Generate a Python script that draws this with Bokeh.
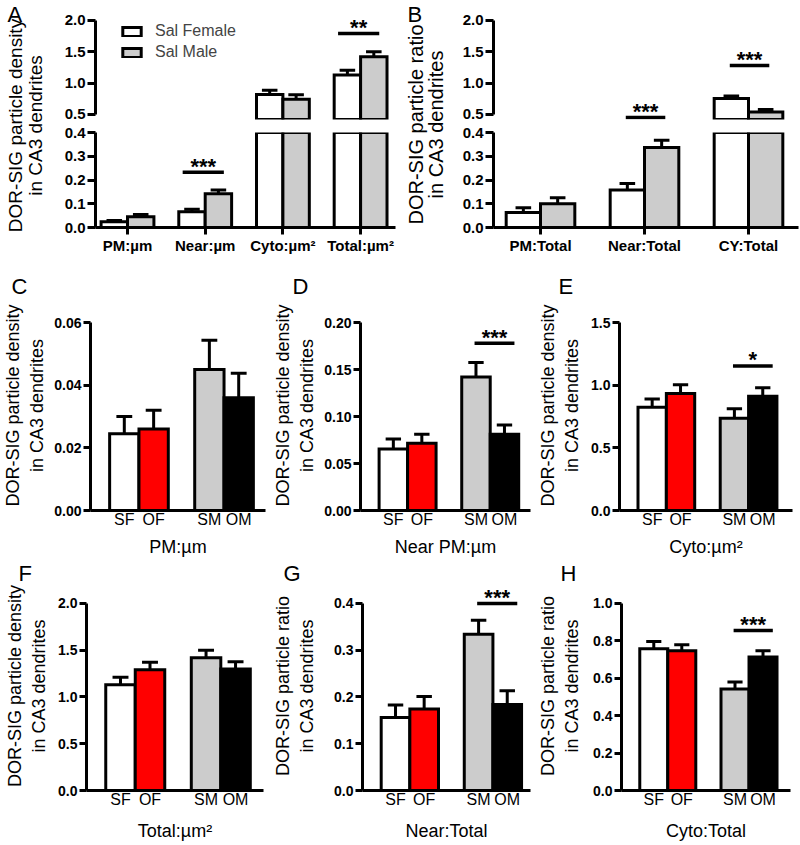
import math
from bokeh.plotting import figure
from bokeh.layouts import row, column
from bokeh.models import (FixedTicker, NumeralTickFormatter, Range1d, Legend,
                          LegendItem, Label, Title)
from bokeh.embed import file_html
from bokeh.resources import INLINE
from bokeh.core.properties import value

FONT = "Liberation Sans"

# ---------------- data ----------------
# Panel A : Sal Female vs Sal Male (particle density)
a_categories = ["PM:µm", "Near:µm", "Cyto:µm²", "Total:µm²"]
a_female = [0.0245, 0.066, 0.82, 1.13]
a_female_err = [0.0055, 0.0105, 0.065, 0.075]
a_male = [0.045, 0.142, 0.745, 1.42]
a_male_err = [0.0093, 0.0155, 0.07, 0.08]
a_sig_cat = [2, 4]
a_sig_y = [0.233, 1.79]
a_sig_text = ["***", "**"]
a_ticks_low = [0.0, 0.1, 0.2, 0.3, 0.4]
a_ticks_high = [0.5, 1.0, 1.5, 2.0]

# Panel B : Sal Female vs Sal Male (particle ratio)
b_categories = ["PM:Total", "Near:Total", "CY:Total"]
b_female = [0.063, 0.158, 0.755]
b_female_err = [0.02, 0.027, 0.04]
b_male = [0.10, 0.337, 0.54]
b_male_err = [0.025, 0.03, 0.04]
b_sig_cat = [2, 3]
b_sig_y = [0.45, 1.28]
b_sig_text = ["***", "***"]
b_ticks_low = [0.0, 0.1, 0.2, 0.3, 0.4]
b_ticks_high = [0.5, 1.0, 1.5, 2.0]

legend_labels = ["Sal Female", "Sal Male"]

# Panels C-H : four groups
groups = ["SF", "OF", "SM", "OM"]

c_vals = [0.0245, 0.026, 0.045, 0.036]
c_err = [0.0055, 0.006, 0.0093, 0.0078]
c_ticks = [0.0, 0.02, 0.04, 0.06]

d_vals = [0.0655, 0.0715, 0.142, 0.081]
d_err = [0.0105, 0.0095, 0.0155, 0.010]
d_ticks = [0.0, 0.05, 0.10, 0.15, 0.20]
d_sig_y, d_sig_text = 0.178, "***"

e_vals = [0.823, 0.933, 0.737, 0.911]
e_err = [0.067, 0.07, 0.075, 0.068]
e_ticks = [0.0, 0.5, 1.0, 1.5]
e_sig_y, e_sig_text = 1.153, "*"

f_vals = [1.13, 1.29, 1.42, 1.30]
f_err = [0.08, 0.08, 0.08, 0.075]
f_ticks = [0.0, 0.5, 1.0, 1.5, 2.0]

g_vals = [0.156, 0.174, 0.334, 0.184]
g_err = [0.027, 0.027, 0.03, 0.029]
g_ticks = [0.0, 0.1, 0.2, 0.3, 0.4]
g_sig_y, g_sig_text = 0.40, "***"

h_vals = [0.757, 0.747, 0.543, 0.713]
h_err = [0.04, 0.032, 0.037, 0.034]
h_ticks = [0.0, 0.2, 0.4, 0.6, 0.8, 1.0]
h_sig_y, h_sig_text = 0.855, "***"

DENSITY = "DOR-SIG particle density"
RATIO = "DOR-SIG particle ratio"
SECOND = "in CA3 dendrites"

# ---------------- styles ----------------
FILL4 = ["white", "#ff0000", "#cccccc", "black"]
FEMALE_FILL, MALE_FILL = "white", "#cccccc"
LW = 3


def style_axis(ax, tick_out, size, bold):
    ax.axis_line_width = LW
    ax.axis_line_color = "black"
    ax.major_tick_line_width = LW
    ax.major_tick_line_color = "black" if tick_out > 0 else None
    ax.major_tick_out = tick_out
    ax.major_tick_in = 0
    ax.minor_tick_line_color = None
    ax.major_label_text_font = FONT
    ax.major_label_text_font_size = size
    ax.major_label_text_font_style = "bold" if bold else "normal"
    ax.major_label_text_color = "black"
    ax.axis_label_text_font = FONT
    ax.axis_label_text_font_style = "normal"
    ax.axis_label_text_color = "black"


def base_fig(width, height, xr, yr, bl, br, bt, bb, **kw):
    p = figure(width=width, height=height, x_range=xr, y_range=yr,
               output_backend="svg", toolbar_location=None, title=None,
               min_border_left=bl, min_border_right=br,
               min_border_top=bt, min_border_bottom=bb, **kw)
    p.grid.visible = False
    p.outline_line_color = None
    p.background_fill_color = "white"
    p.border_fill_color = "white"
    return p


def add_sig(p, xc0, xc1, y, txt):
    p.segment(x0=[xc0], x1=[xc1], y0=[y], y1=[y], line_width=3.5, line_color="black")
    p.text(x=[(xc0 + xc1) / 2], y=[y], text=[txt], text_align="center",
           text_baseline="alphabetic", text_font=value(FONT),
           text_font_style="bold", text_font_size="22px", text_color="black",
           y_offset=-6)


def add_err(p, xs, tops, errs, half):
    ends = [t + e for t, e in zip(tops, errs)]
    p.segment(x0=xs, x1=xs, y0=tops, y1=ends, line_width=LW, line_color="black")
    p.segment(x0=[x - half for x in xs], x1=[x + half for x in xs],
              y0=ends, y1=ends, line_width=LW, line_color="black")


# ---------------- broken-axis panels (A, B) ----------------
TOP_LOW, TOP_HIGH = 0.42, 2.095
ROW1_H = 262
TOP_H = 125


def label_fig(width, letter, letter_x, line1, line2, cx1, cx2, cy, fsize):
    p = figure(width=width, height=ROW1_H, x_range=Range1d(0, width),
               y_range=Range1d(0, ROW1_H), output_backend="svg",
               toolbar_location=None, title=None, x_axis_type=None,
               y_axis_type=None, min_border=0)
    p.grid.visible = False
    p.outline_line_color = None
    p.add_layout(Label(x=letter_x, y=ROW1_H - 1, text=letter, text_font=FONT,
                       text_font_size="22px", text_baseline="top",
                       text_align="left", text_color="black"))
    p.text(x=[cx1, cx2], y=[cy, cy], text=[line1, line2], angle=math.pi / 2,
           text_align="center", text_baseline="middle", text_font=value(FONT),
           text_font_size=fsize, text_color="black")
    return p


def broken_panel(cats, fem, ferr, mal, merr, sig_cat, sig_y, sig_txt,
                 ticks_low, ticks_high, width, bl, br, px_unit, first_px,
                 bar_w, cap_half, sig_span, legend=None):
    n = len(cats)
    xs = list(range(1, n + 1))
    fw = width - bl - br
    x0 = 1 - first_px / px_unit
    xr = Range1d(x0, x0 + fw / px_unit)
    xf = [x - bar_w / 2 for x in xs]
    xm = [x + bar_w / 2 for x in xs]

    # upper segment
    top = base_fig(width, TOP_H, xr, Range1d(TOP_LOW, TOP_HIGH), bl, br, 14, 6,
                   x_axis_location=None)
    seg_lo = ticks_high[0]
    fi = [i for i in range(n) if fem[i] > seg_lo]
    mi = [i for i in range(n) if mal[i] > seg_lo]
    rf = top.vbar(x=[xf[i] for i in fi], top=[fem[i] for i in fi], bottom=0.3,
                  width=bar_w, fill_color=FEMALE_FILL, line_color="black",
                  line_width=LW, line_join="miter")
    rm = top.vbar(x=[xm[i] for i in mi], top=[mal[i] for i in mi], bottom=0.3,
                  width=bar_w, fill_color=MALE_FILL, line_color="black",
                  line_width=LW, line_join="miter")
    add_err(top, [xf[i] for i in fi], [fem[i] for i in fi], [ferr[i] for i in fi], cap_half)
    add_err(top, [xm[i] for i in mi], [mal[i] for i in mi], [merr[i] for i in mi], cap_half)
    ya = top.yaxis[0]
    ya.ticker = FixedTicker(ticks=ticks_high)
    ya.formatter = NumeralTickFormatter(format="0.0")
    ya.bounds = (ticks_high[0], ticks_high[-1])
    style_axis(ya, 8, "15px", True)
    ya.major_label_standoff = 2

    # lower segment
    bot = base_fig(width, ROW1_H - TOP_H, xr, Range1d(ticks_low[0], ticks_low[-1]),
                   bl, br, 7, 35)
    bot.vbar(x=xf, top=fem, bottom=0, width=bar_w, fill_color=FEMALE_FILL,
             line_color="black", line_width=LW, line_join="miter")
    bot.vbar(x=xm, top=mal, bottom=0, width=bar_w, fill_color=MALE_FILL,
             line_color="black", line_width=LW, line_join="miter")
    lim = ticks_low[-1]
    fl = [i for i in range(n) if fem[i] + ferr[i] < lim]
    ml = [i for i in range(n) if mal[i] + merr[i] < lim]
    add_err(bot, [xf[i] for i in fl], [fem[i] for i in fl], [ferr[i] for i in fl], cap_half)
    add_err(bot, [xm[i] for i in ml], [mal[i] for i in ml], [merr[i] for i in ml], cap_half)
    yb = bot.yaxis[0]
    yb.ticker = FixedTicker(ticks=ticks_low)
    yb.formatter = NumeralTickFormatter(format="0.0")
    yb.bounds = (ticks_low[0], ticks_low[-1])
    style_axis(yb, 8, "15px", True)
    yb.major_label_standoff = 2
    xa = bot.xaxis[0]
    xa.ticker = FixedTicker(ticks=xs)
    xa.major_label_overrides = {x: c for x, c in zip(xs, cats)}
    style_axis(xa, 7, "15px", True)
    xa.major_label_standoff = 2

    for c, y, t in zip(sig_cat, sig_y, sig_txt):
        target = bot if y < lim else top
        add_sig(target, c + sig_span[0], c + sig_span[1], y, t)

    if legend is not None:
        lg = Legend(items=[LegendItem(label=legend[0], renderers=[rf]),
                           LegendItem(label=legend[1], renderers=[rm])],
                    location=(25, 58), orientation="vertical",
                    glyph_width=23, glyph_height=11, label_standoff=12,
                    spacing=3, padding=0, margin=0, border_line_color=None,
                    background_fill_alpha=0, label_text_font=FONT,
                    label_text_font_size="16px", label_height=11)
        top.add_layout(lg)
    return column(top, bot)


lab_a = label_fig(50, "A", 7, DENSITY, SECOND, 15, 35, 137, "19px")
pan_a = broken_panel(a_categories, a_female, a_female_err, a_male, a_male_err,
                     a_sig_cat, a_sig_y, a_sig_text, a_ticks_low, a_ticks_high,
                     350, 45, 5, 77.7, 32, 0.34, 0.1, (-0.29, 0.24),
                     legend=legend_labels)
lab_b = label_fig(48, "B", 7, RATIO, SECOND, 15, 35, 138, "20px")
pan_b = broken_panel(b_categories, b_female, b_female_err, b_male, b_male_err,
                     b_sig_cat, b_sig_y, b_sig_text, b_ticks_low, b_ticks_high,
                     352, 45, 2, 104.0, 47, 0.33, 0.075, (-0.18, 0.2))

# ---------------- four-group panels (C-H) ----------------
PX_UNIT = 2.95
BAR_W = 10
ROW2 = (38, 210, 188, 52, 3, 6)      # border top, frame h, axis h, border bottom, letter standoff, xlabel standoff
ROW3 = (18, 210, 188, 55, -8, 10)


def small_panel(letter, lx, vals, errs, ticks, fmt, ylabel,
                xlabel, sig, width, bl, br, geom, y_standoff):
    bt, fh, ah, bb, lst, xst = geom
    pos = [10 * (i + 1) + 9 * (i // 2) for i in range(len(vals))]
    fw = width - bl - br
    x0 = pos[0] - 34 / PX_UNIT
    ymax = ticks[-1]
    yend = ymax * fh / ah
    p = base_fig(width, bt + fh + bb, Range1d(x0, x0 + fw / PX_UNIT),
                 Range1d(0, yend), bl, br, bt, bb)
    p.vbar(x=pos, top=vals, bottom=0, width=BAR_W, fill_color=FILL4,
           line_color="black", line_width=LW, line_join="miter")
    add_err(p, pos, vals, errs, 2.7)
    if sig is not None:
        add_sig(p, pos[2] - 0.5, pos[3] + 3.5, sig[0], sig[1])
    ya = p.yaxis[0]
    ya.ticker = FixedTicker(ticks=ticks)
    ya.formatter = NumeralTickFormatter(format=fmt)
    ya.bounds = (0, ymax)
    style_axis(ya, 7, "14px", True)
    ya.major_label_standoff = 2
    ya.axis_label = ylabel
    ya.axis_label_text_font_size = "18px"
    ya.axis_label_standoff = y_standoff
    xa = p.xaxis[0]
    xa.ticker = FixedTicker(ticks=pos)
    xa.major_label_overrides = {x: g for x, g in zip(pos, groups)}
    style_axis(xa, 0, "16px", False)
    xa.major_label_standoff = 0
    xa.axis_label = xlabel
    xa.axis_label_text_font_size = "18px"
    xa.axis_label_standoff = xst
    p.add_layout(Title(text=letter, align="left", offset=lx - bl, standoff=lst,
                       text_font=FONT, text_font_size="22px",
                       text_font_style="normal", text_color="black"), "above")
    return p


pc = small_panel("C", 10, c_vals, c_err, c_ticks, "0.00",
                 DENSITY + "\n" + SECOND, "PM:µm", None, 270, 89, 5, ROW2, 4)
pd_ = small_panel("D", 16, d_vals, d_err, d_ticks, "0.00",
                  DENSITY + "\n" + SECOND, "Near PM:µm", (d_sig_y, d_sig_text),
                  265, 84, 5, ROW2, 4)
pe = small_panel("E", 16, e_vals, e_err, e_ticks, "0.0",
                 DENSITY + "\n" + SECOND, "Cyto:µm²", (e_sig_y, e_sig_text),
                 265, 77, 8, ROW2, 6)
pf = small_panel("F", 18, f_vals, f_err, f_ticks, "0.0",
                 DENSITY + "\n" + SECOND, "Total:µm²", None, 270, 86, 7, ROW3, 6)
pg = small_panel("G", 8, g_vals, g_err, g_ticks, "0.0",
                 RATIO + "\n" + SECOND, "Near:Total", (g_sig_y, g_sig_text),
                 265, 87, 5, ROW3, 14)
ph = small_panel("H", 16, h_vals, h_err, h_ticks, "0.0",
                 RATIO + "\n" + SECOND, "Cyto:Total", (h_sig_y, h_sig_text),
                 265, 77, 10, ROW3, 8)

layout = column(row(lab_a, pan_a, lab_b, pan_b),
                row(pc, pd_, pe),
                row(pf, pg, ph))

open("out.html", "w").write(file_html(layout, INLINE))
